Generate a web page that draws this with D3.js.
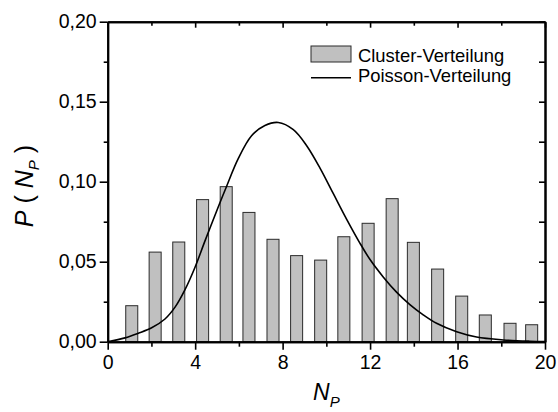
<!DOCTYPE html>
<html lang="de">
<head>
<meta charset="UTF-8">
<title>Cluster- vs. Poisson-Verteilung</title>
<style>
  body { margin: 0; background: #fff; }
  svg text { font-family: "Liberation Sans", Arial, sans-serif; fill: #000; }
</style>
</head>
<body>
<div id="chart"></div>
<script src="https://d3js.org/d3.v7.min.js"></script>
<script>
// bar positions (N_P) and heights
var clusterX = [1.10, 2.17, 3.25, 4.34, 5.42, 6.46, 7.56, 8.64, 9.74, 10.80, 11.91, 13.01, 13.98, 15.09, 16.19, 17.27, 18.40, 19.39];
var clusterY = [0.0225, 0.056, 0.0623, 0.0888, 0.0969, 0.0808, 0.064, 0.0538, 0.051, 0.0656, 0.074, 0.0894, 0.0621, 0.0454, 0.0285, 0.0167, 0.0115, 0.0106];

// points along the Poisson curve
var poissonX = [0, 0.79, 1.40, 2.01, 2.62, 3.08, 3.53, 3.99, 4.45, 5.06, 5.44, 5.97, 6.58, 7.19, 7.80, 8.49, 9.10, 9.71, 10.32, 10.93, 11.54, 11.99, 12.60, 13.21, 13.82, 14.43, 15.04, 15.96, 16.87, 18.09, 19.31, 20];
var poissonY = [0, 0.0024, 0.0053, 0.0087, 0.0142, 0.0216, 0.0324, 0.0464, 0.0630, 0.0843, 0.0972, 0.1144, 0.1287, 0.1351, 0.1370, 0.1325, 0.1225, 0.1085, 0.0925, 0.0765, 0.0615, 0.0515, 0.0405, 0.0310, 0.0232, 0.0168, 0.0115, 0.0062, 0.0029, 0.0011, 0.0003, 0.0001];

var xMajor = [0, 4, 8, 12, 16, 20];
var xMinor = [2, 6, 10, 14, 18];
var yMajor = [0, 0.05, 0.10, 0.15, 0.20];
var yMinor = [0.025, 0.075, 0.125, 0.175];

var legendLabels = ["Cluster-Verteilung", "Poisson-Verteilung"];

var W = 558, H = 412;
var plotL = 107.7, plotR = 545, plotT = 21.7, plotB = 341.7;

var svg = d3.select("#chart").append("svg")
    .attr("width", W)
    .attr("height", H);

var x = d3.scaleLinear().domain([0, 20]).range([plotL, plotR]);
var y = d3.scaleLinear().domain([0, 0.20]).range([plotB, plotT]);

var comma = function(d) { return d3.format(".2f")(d).replace(".", ","); };

// bars
var barW = x(0.55) - x(0);
svg.append("g")
  .selectAll("rect")
  .data(clusterX)
  .enter()
  .append("rect")
    .attr("x", function(d) { return x(d) - barW / 2; })
    .attr("y", function(d, i) { return y(clusterY[i]); })
    .attr("width", barW)
    .attr("height", function(d, i) { return y(0) - y(clusterY[i]); })
    .attr("fill", "#c0c0c0")
    .attr("stroke", "#2b2b2b")
    .attr("stroke-width", 1);

// poisson curve
var curvePts = poissonX.map(function(d, i) { return [d, poissonY[i]]; });
svg.append("path")
  .datum(curvePts)
  .attr("fill", "none")
  .attr("stroke", "#000")
  .attr("stroke-width", 1.6)
  .attr("d", d3.line()
    .curve(d3.curveCatmullRom.alpha(0.5))
    .x(function(d) { return x(d[0]); })
    .y(function(d) { return y(d[1]); }));

// axes: bottom/left ticks outside, top/right inside
function styleAxis(g) {
  g.attr("font-size", null).attr("font-family", null);
  g.select(".domain").attr("stroke-width", 2).attr("stroke", "#000");
  g.selectAll(".tick line").attr("stroke-width", 1.6).attr("stroke", "#000");
  g.selectAll(".tick text").style("font-size", "19.5px");
}

// bottom
svg.append("g")
  .attr("transform", "translate(0," + plotB + ")")
  .call(d3.axisBottom(x).tickValues(xMinor).tickSize(5).tickSizeOuter(0).tickFormat(""))
  .call(styleAxis);
svg.append("g")
  .attr("transform", "translate(0," + plotB + ")")
  .call(d3.axisBottom(x).tickValues(xMajor).tickSize(8).tickSizeOuter(0).tickPadding(5).tickFormat(d3.format("d")))
  .call(styleAxis);

// top
svg.append("g")
  .attr("transform", "translate(0," + plotT + ")")
  .call(d3.axisBottom(x).tickValues(xMinor).tickSize(4).tickSizeOuter(0).tickFormat(""))
  .call(styleAxis);
svg.append("g")
  .attr("transform", "translate(0," + plotT + ")")
  .call(d3.axisBottom(x).tickValues(xMajor).tickSize(6).tickSizeOuter(0).tickFormat(""))
  .call(styleAxis);

// left
svg.append("g")
  .attr("transform", "translate(" + plotL + ",0)")
  .call(d3.axisLeft(y).tickValues(yMinor).tickSize(4).tickSizeOuter(0).tickFormat(""))
  .call(styleAxis);
svg.append("g")
  .attr("transform", "translate(" + plotL + ",0)")
  .call(d3.axisLeft(y).tickValues(yMajor).tickSize(8).tickSizeOuter(0).tickPadding(3).tickFormat(comma))
  .call(styleAxis);

// right
svg.append("g")
  .attr("transform", "translate(" + plotR + ",0)")
  .call(d3.axisLeft(y).tickValues(yMinor).tickSize(6).tickSizeOuter(0).tickFormat(""))
  .call(styleAxis);
svg.append("g")
  .attr("transform", "translate(" + plotR + ",0)")
  .call(d3.axisLeft(y).tickValues(yMajor).tickSize(6).tickSizeOuter(0).tickFormat(""))
  .call(styleAxis);

// x axis title N_P
var xt = svg.append("text")
  .attr("x", (plotL + plotR) / 2)
  .attr("y", 400)
  .attr("text-anchor", "middle")
  .style("font-size", "23px");
xt.append("tspan").attr("font-style", "italic").text("N");
xt.append("tspan").attr("font-style", "italic").attr("dy", 7).style("font-size", "15px").text("P");

// y axis title P ( N_P )
var yt = svg.append("text")
  .attr("transform", "translate(33,186) rotate(-90)")
  .attr("text-anchor", "middle")
  .style("font-size", "25px");
yt.append("tspan").attr("font-style", "italic").text("P");
yt.append("tspan").text(" ( ");
yt.append("tspan").attr("font-style", "italic").text("N");
yt.append("tspan").attr("font-style", "italic").attr("dy", 6).style("font-size", "15px").text("P");
yt.append("tspan").attr("dy", -6).text(" )");

// legend
var lg = svg.append("g");
lg.append("rect")
  .attr("x", 311).attr("y", 46)
  .attr("width", 40).attr("height", 16)
  .attr("fill", "#c0c0c0")
  .attr("stroke", "#2b2b2b")
  .attr("stroke-width", 1);
lg.append("line")
  .attr("x1", 311).attr("x2", 351)
  .attr("y1", 77.7).attr("y2", 77.7)
  .attr("stroke", "#000")
  .attr("stroke-width", 1.6);
lg.selectAll("text.leg")
  .data(legendLabels)
  .enter()
  .append("text")
    .attr("class", "leg")
    .attr("x", 358)
    .attr("y", function(d, i) { return 61.5 + i * 20; })
    .style("font-size", "18.4px")
    .text(function(d) { return d; });
</script>
</body>
</html>
